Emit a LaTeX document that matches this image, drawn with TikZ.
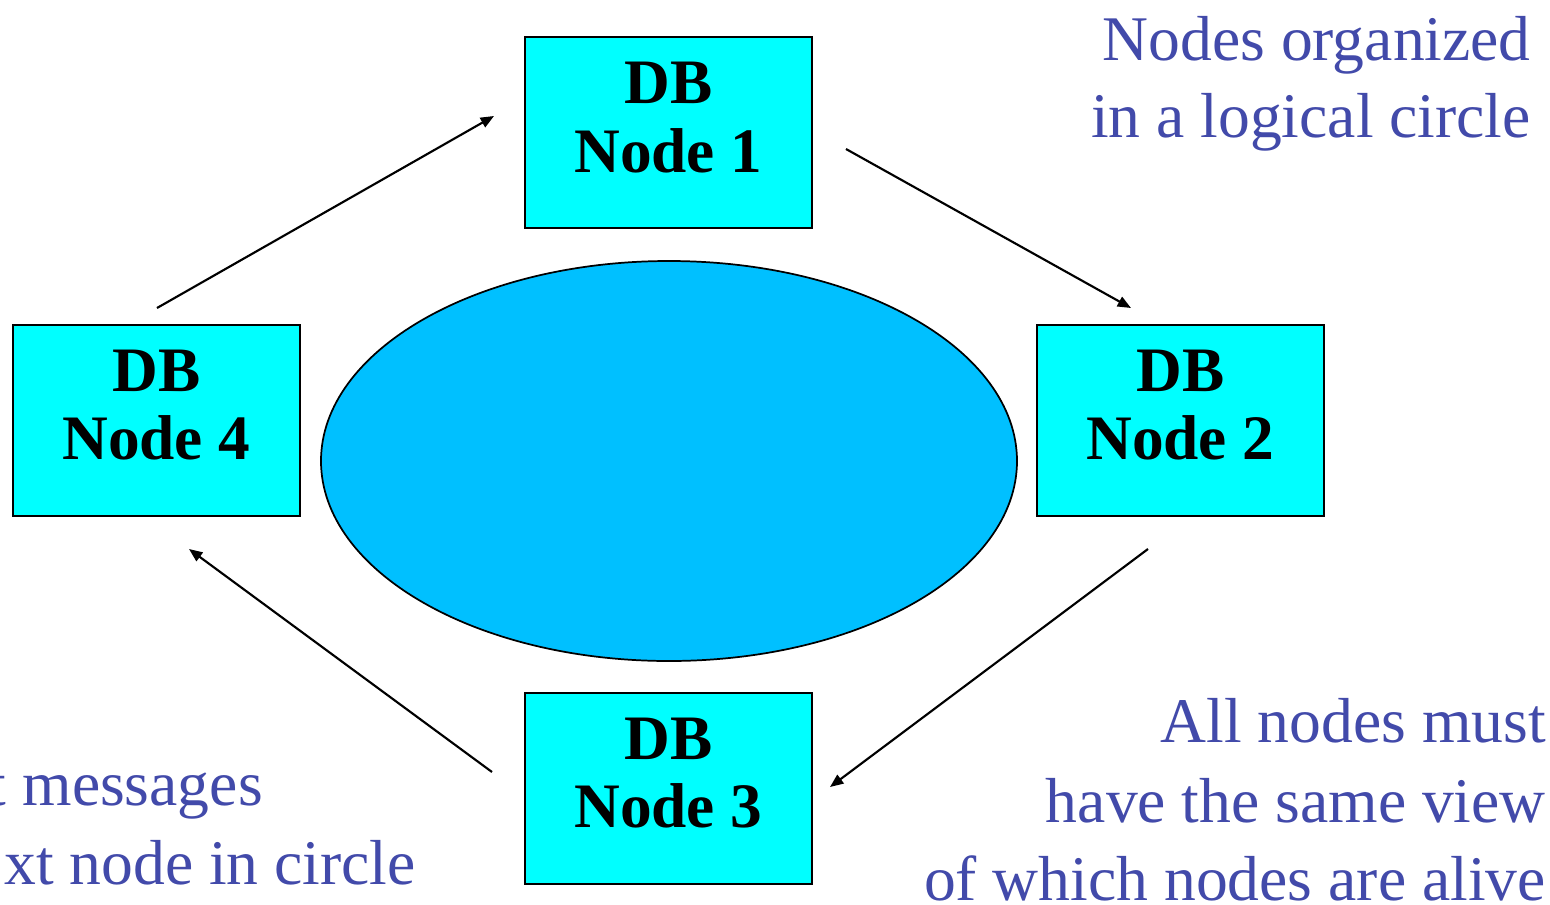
\documentclass[tikz,border=0pt]{standalone}
\usepackage{fontspec}
\setmainfont{Liberation Serif}
\usetikzlibrary{arrows.meta,shapes.geometric}
\definecolor{boxcyan}{RGB}{0,255,255}
\definecolor{ellblue}{RGB}{0,192,255}
\definecolor{txtblue}{RGB}{66,74,170}
\tikzset{
  dbbox/.style={draw=black, line width=1.9pt, fill=boxcyan, minimum width=287*0.75pt, minimum height=191*0.75pt, inner sep=0pt},
  boldlbl/.style={font=\fontsize{47.5}{52}\selectfont\bfseries, anchor=base, inner sep=0pt},
  note/.style={font=\fontsize{47.7}{58}\selectfont, text=txtblue, anchor=base east, inner sep=0pt},
  flow/.style={line width=1.6pt, -{Triangle[length=10pt, width=8pt]}}
}
\begin{document}
\begin{tikzpicture}[x=0.75pt, y=-0.75pt]
\useasboundingbox (0,0) rectangle (1550,904);
\clip (0,0) rectangle (1550,904);
\fill[white] (0,0) rectangle (1550,904);
% ring
\node[draw=black, line width=1.3pt, fill=ellblue, ellipse, minimum width=696*0.75pt, minimum height=400*0.75pt, inner sep=0pt] (ring) at (669,461) {};
% boxes
\node[dbbox] (n1) at (668.5,132.5) {};
\node[dbbox] (n2) at (1180.5,420.5) {};
\node[dbbox] (n3) at (668.5,788.5) {};
\node[dbbox] (n4) at (156.5,420.5) {};
\node[boldlbl] (n1a) at (668.5,103) {DB};
\node[boldlbl] (n1b) at (668.5,172) {Node 1};
\node[boldlbl] (n2a) at (1180.5,391) {DB};
\node[boldlbl] (n2b) at (1180.5,459) {Node 2};
\node[boldlbl] (n3a) at (668.5,759) {DB};
\node[boldlbl] (n3b) at (668.5,827) {Node 3};
\node[boldlbl] (n4a) at (156.5,391) {DB};
\node[boldlbl] (n4b) at (156.5,459) {Node 4};
% connector ends
\coordinate (a1s) at (157,308);  \coordinate (a1e) at (494,116);
\coordinate (a2s) at (846,149);  \coordinate (a2e) at (1131,308);
\coordinate (a3s) at (1148,549); \coordinate (a3e) at (830,787);
\coordinate (a4s) at (492,772);  \coordinate (a4e) at (189,549);
\draw[flow] (a1s) -- (a1e);
\draw[flow] (a2s) -- (a2e);
\draw[flow] (a3s) -- (a3e);
\draw[flow] (a4s) -- (a4e);
% notes
\node[note] (t1) at (1531,60) {Nodes organized};
\node[note] (t2) at (1531,137) {in a logical circle};
\node[note] (t3) at (1546,742) {All nodes must};
\node[note] (t4) at (1546,822) {have the same view};
\node[note] (t5) at (1546,900) {of which nodes are alive};
\node[note] (t6) at (263,805) {t messages};
\node[note] (t7) at (416,884) {xt node in circle};
\end{tikzpicture}
\end{document}
